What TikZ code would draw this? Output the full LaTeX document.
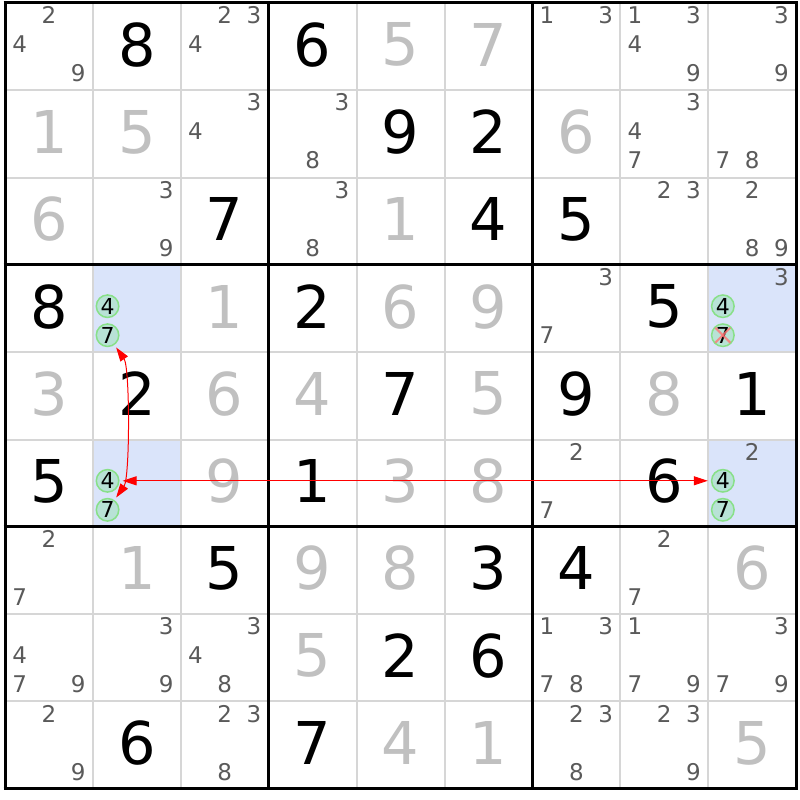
\documentclass[tikz,border=0pt]{standalone}
\usepackage{fontspec}
\setmainfont{DejaVu Sans}
\usetikzlibrary{arrows.meta}
\definecolor{hl}{HTML}{DAE4FA}
\definecolor{gridgray}{HTML}{D6D6D6}
\definecolor{solvedc}{HTML}{C0C0C0}
\definecolor{candc}{HTML}{5A5A5A}
\definecolor{circfill}{HTML}{B8E2D6}
\definecolor{circdraw}{HTML}{88E088}
\tikzset{
  given/.style={inner sep=0pt, font=\fontsize{59}{59}\selectfont, text=black},
  solved/.style={given, text=solvedc},
  cand/.style={inner sep=0pt, font=\fontsize{23}{23}\selectfont, text=candc},
  circcand/.style={circle, minimum size=22.5pt, inner sep=0pt, fill=circfill, draw=circdraw, line width=1.5pt, font=\fontsize{22}{22}\selectfont, text=black},
  gridthin/.style={gridgray, line width=2pt},
  gridthick/.style={black, line width=3pt},
  link/.style={red, line width=1pt, {Triangle[length=14pt,width=9pt]}-{Triangle[length=14pt,width=9pt]}, shorten <=3pt, shorten >=3pt},
  xmark/.style={red!55, line width=2pt, opacity=0.8},
  hlcell/.style={fill=hl}
}
\newcommand\Giv[3]{\node[given] (n#1#2) at ({5+87.9*(#2-0.5)},{-(3+87.3*(#1-0.5)-2)}) {#3};}
\newcommand\Sol[3]{\node[solved] (n#1#2) at ({5+87.9*(#2-0.5)},{-(3+87.3*(#1-0.5)-2)}) {#3};}
\newcommand\Cnd[3]{%
  \pgfmathsetmacro\cx{5+87.9*(#2-1)+29.3*(mod(#3-1,3)+0.5)}%
  \pgfmathsetmacro\cy{3+87.3*(#1-1)+12.3+29*floor((#3-1)/3)}%
  \node[cand] (c#1#2#3) at (\cx,-\cy) {#3};}
\newcommand\Cands[3]{\foreach \dd in {#3} {\Cnd{#1}{#2}{\dd}}}
\newcommand\Cir[3]{%
  \pgfmathsetmacro\cx{5+87.9*(#2-1)+29.3*(mod(#3-1,3)+0.5)}%
  \pgfmathsetmacro\cy{3+87.3*(#1-1)+12.3+29*floor((#3-1)/3)}%
  \node[circcand] (k#1#2#3) at (\cx,-\cy) {#3};}
\newcommand\Hl[2]{\fill[hlcell] ({5+87.9*(#2-1)},{-(3+87.3*(#1-1))}) rectangle ({5+87.9*#2},{-(3+87.3*#1)});}
\begin{document}
\begin{tikzpicture}[x=1pt,y=1pt]
\useasboundingbox (0,0) rectangle (800,-800);
\fill[white] (0,0) rectangle (800,-800);
% highlighted cells
\Hl{4}{2}\Hl{6}{2}\Hl{4}{9}\Hl{6}{9}
% grid
\foreach \i in {1,2,4,5,7,8} {
  \draw[gridthin] ({5+87.9*\i},-3) -- ({5+87.9*\i},-788.7);
  \draw[gridthin] (5,{-(3+87.3*\i)}) -- (796.1,{-(3+87.3*\i)});
}
\foreach \i in {0,3,6,9} {
  \draw[gridthick] ({5+87.9*\i},-1.5) -- ({5+87.9*\i},-790.2);
  \draw[gridthick] (3.5,{-(3+87.3*\i)}) -- (797.6,{-(3+87.3*\i)});
}
% row 1
\Cands{1}{1}{2,4,9} \Giv{1}{2}{8} \Cands{1}{3}{2,3,4} \Giv{1}{4}{6} \Sol{1}{5}{5} \Sol{1}{6}{7} \Cands{1}{7}{1,3} \Cands{1}{8}{1,3,4,9} \Cands{1}{9}{3,9}
% row 2
\Sol{2}{1}{1} \Sol{2}{2}{5} \Cands{2}{3}{3,4} \Cands{2}{4}{3,8} \Giv{2}{5}{9} \Giv{2}{6}{2} \Sol{2}{7}{6} \Cands{2}{8}{3,4,7} \Cands{2}{9}{7,8}
% row 3
\Sol{3}{1}{6} \Cands{3}{2}{3,9} \Giv{3}{3}{7} \Cands{3}{4}{3,8} \Sol{3}{5}{1} \Giv{3}{6}{4} \Giv{3}{7}{5} \Cands{3}{8}{2,3} \Cands{3}{9}{2,8,9}
% row 4
\Giv{4}{1}{8} \Cir{4}{2}{4} \Cir{4}{2}{7} \Sol{4}{3}{1} \Giv{4}{4}{2} \Sol{4}{5}{6} \Sol{4}{6}{9} \Cands{4}{7}{3,7} \Giv{4}{8}{5} \Cands{4}{9}{3} \Cir{4}{9}{4} \Cir{4}{9}{7}
% row 5
\Sol{5}{1}{3} \Giv{5}{2}{2} \Sol{5}{3}{6} \Sol{5}{4}{4} \Giv{5}{5}{7} \Sol{5}{6}{5} \Giv{5}{7}{9} \Sol{5}{8}{8} \Giv{5}{9}{1}
% row 6
\Giv{6}{1}{5} \Cir{6}{2}{4} \Cir{6}{2}{7} \Sol{6}{3}{9} \Giv{6}{4}{1} \Sol{6}{5}{3} \Sol{6}{6}{8} \Cands{6}{7}{2,7} \Giv{6}{8}{6} \Cands{6}{9}{2} \Cir{6}{9}{4} \Cir{6}{9}{7}
% row 7
\Cands{7}{1}{2,7} \Sol{7}{2}{1} \Giv{7}{3}{5} \Sol{7}{4}{9} \Sol{7}{5}{8} \Giv{7}{6}{3} \Giv{7}{7}{4} \Cands{7}{8}{2,7} \Sol{7}{9}{6}
% row 8
\Cands{8}{1}{4,7,9} \Cands{8}{2}{3,9} \Cands{8}{3}{3,4,8} \Sol{8}{4}{5} \Giv{8}{5}{2} \Giv{8}{6}{6} \Cands{8}{7}{1,3,7,8} \Cands{8}{8}{1,7,9} \Cands{8}{9}{3,7,9}
% row 9
\Cands{9}{1}{2,9} \Giv{9}{2}{6} \Cands{9}{3}{2,3,8} \Giv{9}{4}{7} \Sol{9}{5}{4} \Sol{9}{6}{1} \Cands{9}{7}{2,3,8} \Cands{9}{8}{2,3,9} \Sol{9}{9}{5}
% elimination mark
\draw[xmark] ([shift={(-7.5,7.5)}]k497.center) -- ([shift={(7.5,-7.5)}]k497.center);
\draw[xmark] ([shift={(-7.5,-7.5)}]k497.center) -- ([shift={(7.5,7.5)}]k497.center);
% links
\draw[link] (k624) -- (k694);
\draw[link] (k427) to[out=-55,in=55,looseness=0.45] (k627);
\end{tikzpicture}
\end{document}
